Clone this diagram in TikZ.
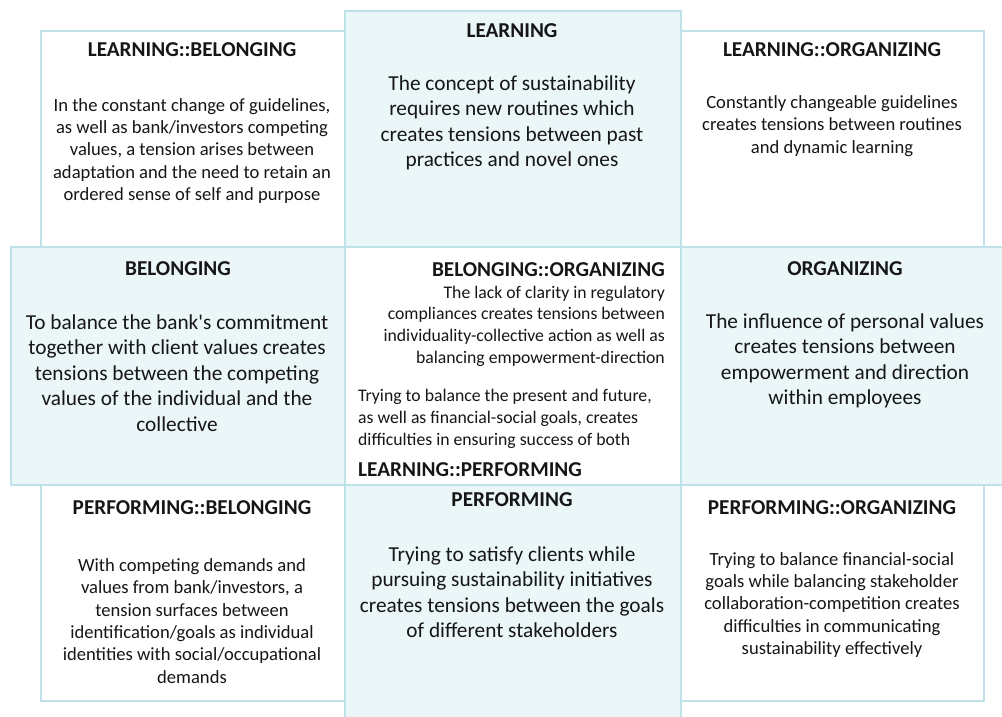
\documentclass[tikz,border=0pt]{standalone}
\usepackage{fontspec}
\setmainfont{Carlito}
\definecolor{cellfill}{RGB}{234,246,247}
\definecolor{cellline}{RGB}{190,226,232}
\definecolor{ink}{RGB}{22,22,22}
\begin{document}
\begin{tikzpicture}[x=1pt,y=-1pt,
  box/.style={draw=cellline, line width=1.6pt, inner sep=0pt, anchor=north west},
  core/.style={box, fill=cellfill},
  pair/.style={box, fill=white},
  head/.style={font=\fontsize{21.2}{25}\selectfont\bfseries, text=ink, inner sep=0pt},
  small/.style={font=\fontsize{18.6}{22.4}\selectfont, text=ink, align=center, inner sep=0pt},
  mid/.style={font=\fontsize{17.7}{21.7}\selectfont, text=ink, inner sep=0pt},
  large/.style={font=\fontsize{21.3}{25.5}\selectfont, text=ink, align=center, inner sep=0pt}]
\clip (0,0) rectangle (1002,717);
\fill[white] (0,0) rectangle (1002,717);

% corner cells: paired dimensions
\node[pair, minimum width=304pt, minimum height=216pt] (lbbox) at (40,30) {};
\node[pair, minimum width=303pt, minimum height=216pt] (lobox) at (680,30) {};
\node[pair, minimum width=304pt, minimum height=216pt] (pbbox) at (40,484) {};
\node[pair, minimum width=303pt, minimum height=216pt] (pobox) at (680,484) {};
% centre cell
\node[pair, minimum width=336pt, minimum height=238pt] (ctbox) at (344,246) {};
% single dimensions
\node[core, minimum width=336pt, minimum height=235.5pt] (lnbox) at (344,10.5) {};
\node[core, minimum width=334pt, minimum height=238pt] (bebox) at (10,246) {};
\node[core, minimum width=330pt, minimum height=238pt] (orbox) at (680,246) {};
\node[core, minimum width=336pt, minimum height=250pt] (pfbox) at (344,484) {};

% LEARNING::BELONGING
\node[head] (lbt) at (192,50) {LEARNING::BELONGING};
\node[small] (lbb) at (192,151) {In the constant change of guidelines,\\as well as bank/investors competing\\values, a tension arises between\\adaptation and the need to retain an\\ordered sense of self and purpose};

% LEARNING
\node[head] (lnt) at (512,31) {LEARNING};
\node[large] (lnb) at (512,123) {The concept of sustainability\\requires new routines which\\creates tensions between past\\practices and novel ones};

% LEARNING::ORGANIZING
\node[head] (lot) at (832,50) {LEARNING::ORGANIZING};
\node[small] (lob) at (832,126) {Constantly changeable guidelines\\creates tensions between routines\\and dynamic learning};

% BELONGING
\node[head] (bet) at (178,269) {BELONGING};
\node[large] (beb) at (177,373) {To balance the bank\textquotesingle s commitment\\together with client values creates\\tensions between the competing\\values of the individual and the\\collective};

% ORGANIZING
\node[head] (ort) at (845,269) {ORGANIZING};
\node[large] (orb) at (845,361) {The influence of personal values\\creates tensions between\\empowerment and direction\\within employees};

% centre: BELONGING::ORGANIZING and LEARNING::PERFORMING
\node[head, anchor=east] (bot) at (665,270) {BELONGING::ORGANIZING};
\node[mid, align=right, anchor=east] (bob) at (665,326) {The lack of clarity in regulatory\\compliances creates tensions between\\individuality-collective action as well as\\balancing empowerment-direction};
\node[mid, align=left, anchor=west] (lpb) at (358,419) {Trying to balance the present and future,\\as well as financial-social goals, creates\\difficulties in ensuring success of both};
\node[head, anchor=west] (lpt) at (358,470) {LEARNING::PERFORMING};

% PERFORMING::BELONGING
\node[head] (pbt) at (192,508) {PERFORMING::BELONGING};
\node[small] (pbb) at (192,621) {With competing demands and\\values from bank/investors, a\\tension surfaces between\\identification/goals as individual\\identities with social/occupational\\demands};

% PERFORMING
\node[head] (pft) at (512,500) {PERFORMING};
\node[large] (pfb) at (512,592) {Trying to satisfy clients while\\pursuing sustainability initiatives\\creates tensions between the goals\\of different stakeholders};

% PERFORMING::ORGANIZING
\node[head] (pot) at (832,508) {PERFORMING::ORGANIZING};
\node[small] (pob) at (832,605) {Trying to balance financial-social\\goals while balancing stakeholder\\collaboration-competition creates\\difficulties in communicating\\sustainability effectively};
\end{tikzpicture}
\end{document}
